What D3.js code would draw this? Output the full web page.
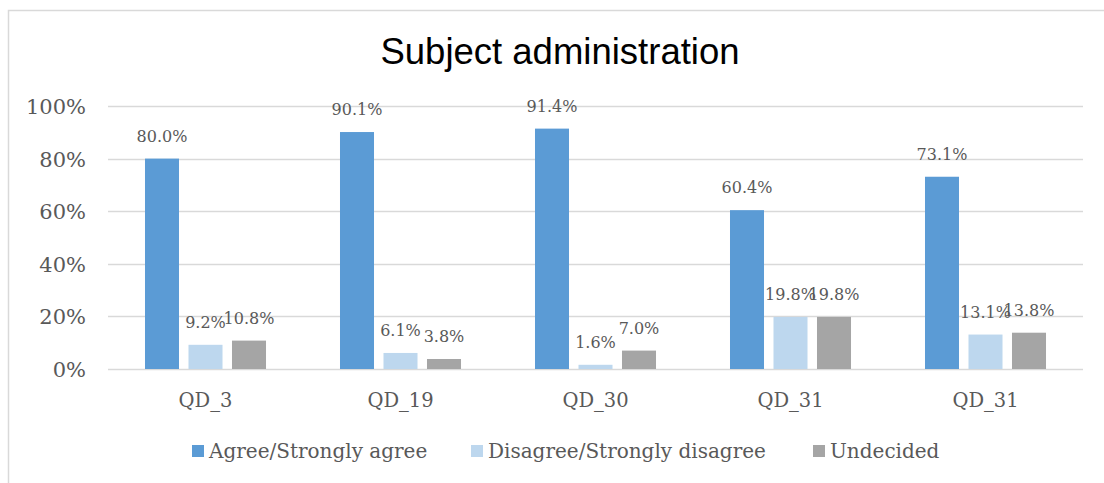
<!DOCTYPE html>
<html>
<head>
<meta charset="utf-8">
<script src="https://cdn.jsdelivr.net/npm/d3@7"></script>
<style>
  html, body { margin: 0; padding: 0; background: #fff; }
  svg { display: block; }
</style>
</head>
<body>
<svg id="chart" width="1104" height="483"></svg>
<script>
// Survey responses per question (fraction of respondents)
const categories = ["QD_3", "QD_19", "QD_30", "QD_31", "QD_31"];
const seriesNames = ["Agree/Strongly agree", "Disagree/Strongly disagree", "Undecided"];
const agree = [0.800, 0.901, 0.914, 0.604, 0.731];
const disagree = [0.092, 0.061, 0.016, 0.198, 0.131];
const undecided = [0.108, 0.038, 0.070, 0.198, 0.138];
const yTicks = [0, 0.2, 0.4, 0.6, 0.8, 1.0];
const colors = ["#5B9BD5", "#BDD7EE", "#A5A5A5"];

const seriesValues = [agree, disagree, undecided];
const rows = categories.map((c, i) => ({
  idx: i, cat: c,
  vals: seriesValues.map((s, k) => ({ k, v: s[i] }))
}));

const svg = d3.select("#chart");
const serif = "'DejaVu Serif', serif";
const textGray = "#595959";

// Chart frame
svg.append("rect")
  .attr("x", 8.5).attr("y", 10.5)
  .attr("width", 1300).attr("height", 600)
  .attr("fill", "none").attr("stroke", "#D9D9D9").attr("stroke-width", 1.5);

// Title
svg.append("text")
  .attr("x", 560).attr("y", 64)
  .attr("text-anchor", "middle")
  .attr("font-family", "'Liberation Sans', Arial, sans-serif")
  .attr("font-size", 36.5)
  .attr("fill", "#000")
  .text("Subject administration");

const plot = { left: 108, right: 1083, top: 106, bottom: 369 };

const y = d3.scaleLinear().domain([0, 1]).range([plot.bottom, plot.top]);
const x0 = d3.scaleBand().domain(d3.range(categories.length))
  .range([plot.left, plot.right]).paddingInner(0).paddingOuter(0);
const groupInset = 32.25;
const x1 = d3.scaleBand().domain(d3.range(seriesNames.length))
  .range([groupInset, x0.bandwidth() - groupInset])
  .paddingInner(0.218).paddingOuter(0.109);

// Gridlines
svg.append("g")
  .selectAll("line")
  .data(yTicks)
  .join("line")
  .attr("x1", plot.left).attr("x2", plot.right)
  .attr("y1", d => Math.round(y(d)) + 0.5).attr("y2", d => Math.round(y(d)) + 0.5)
  .attr("stroke", "#D9D9D9").attr("stroke-width", 1.5);

// Y axis labels
const yAxis = d3.axisLeft(y).tickValues(yTicks)
  .tickFormat(d3.format(".0%")).tickSize(0).tickPadding(0);
const yg = svg.append("g").attr("transform", `translate(86,0)`).call(yAxis);
yg.select(".domain").remove();
yg.selectAll("text")
  .attr("font-family", serif).attr("font-size", 21)
  .attr("fill", textGray).attr("dy", "0.36em");

// X axis labels
const xAxis = d3.axisBottom(x0).tickFormat(i => categories[i]).tickSize(0).tickPadding(0);
const xg = svg.append("g").attr("transform", `translate(0,392)`).call(xAxis);
xg.select(".domain").remove();
xg.selectAll("text")
  .attr("font-family", serif).attr("font-size", 19.5)
  .attr("fill", textGray).attr("dy", "0.75em");

// Bars
const groups = svg.append("g").selectAll("g")
  .data(rows).join("g")
  .attr("transform", d => `translate(${x0(d.idx)},0)`);

groups.selectAll("rect")
  .data(d => d.vals).join("rect")
  .attr("x", d => x1(d.k))
  .attr("width", x1.bandwidth())
  .attr("y", d => y(d.v))
  .attr("height", d => y(0) - y(d.v))
  .attr("fill", d => colors[d.k]);

// Value labels
groups.selectAll("text")
  .data(d => d.vals).join("text")
  .attr("x", d => x1(d.k) + x1.bandwidth() / 2)
  .attr("y", d => y(d.v) - 17)
  .attr("text-anchor", "middle")
  .attr("font-family", serif).attr("font-size", 16)
  .attr("fill", textGray)
  .text(d => d3.format(".1%")(d.v));

// Legend
const legendItems = [
  { k: 0, x: 192 },
  { k: 1, x: 471 },
  { k: 2, x: 813 }
];
const lg = svg.append("g").selectAll("g")
  .data(legendItems).join("g")
  .attr("transform", d => `translate(${d.x},0)`);
lg.append("rect")
  .attr("x", 0).attr("y", 445).attr("width", 12).attr("height", 12)
  .attr("fill", d => colors[d.k]);
lg.append("text")
  .attr("x", 17).attr("y", 458)
  .attr("font-family", serif).attr("font-size", 20)
  .attr("fill", textGray)
  .text(d => seriesNames[d.k]);
</script>
</body>
</html>
